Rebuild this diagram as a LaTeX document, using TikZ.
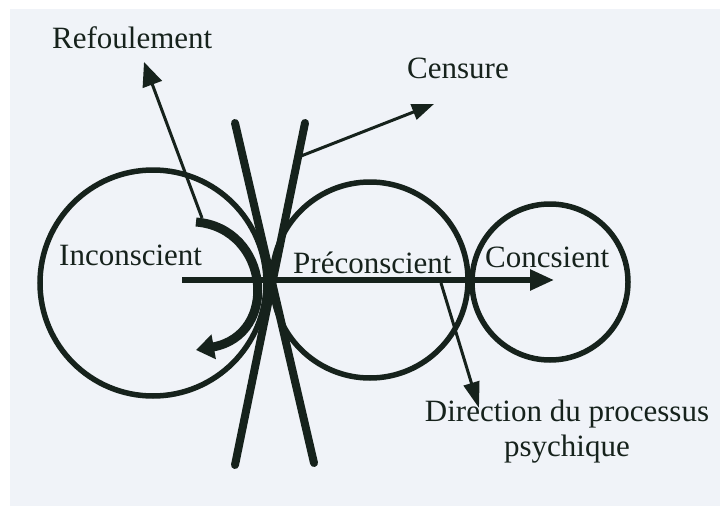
\documentclass[tikz,border=0pt]{standalone}
\usepackage{fontspec}
\setmainfont{Liberation Serif}
\usetikzlibrary{arrows.meta,calc}
\definecolor{ink}{RGB}{22,34,28}
\definecolor{paper}{RGB}{240,243,248}
\begin{document}
\begin{tikzpicture}[x=1pt,y=-1pt,
  ring/.style={circle,draw=ink,line width=5.5pt,inner sep=0pt},
  barline/.style={draw=ink,line width=8pt,line cap=round},
  thinarrow/.style={draw=ink,line width=3pt,-{Triangle[length=22pt,width=16pt]}},
  label/.style={font=\fontsize{31}{35}\selectfont,text=ink,inner sep=0pt}]
\useasboundingbox (0,0) rectangle (720,506);
\fill[white] (0,0) rectangle (720,506);
\fill[paper] (10,9) rectangle (720,506);
% circles
\node[ring,minimum size=226pt] (inc) at (153,283) {};
\node[ring,minimum size=196pt] (pre) at (370,280) {};
\node[ring,minimum size=156pt] (con) at (550,282) {};
% crossing bars
\coordinate (a1) at (235,123);
\coordinate (a2) at (314,463);
\coordinate (b1) at (305,123);
\coordinate (b2) at (235,465);
\draw[barline] (a1) -- (a2);
\draw[barline] (b1) -- (b2);
% labels
\node[label,anchor=base west] (tref) at (52,48) {Refoulement};
\node[label,anchor=base west] (tcen) at (407,78) {Censure};
\node[label,anchor=base west] (tinc) at (59,265) {Inconscient};
\node[label,anchor=base west,fill=paper,inner sep=1pt] (tpre) at (292,273) {Préconscient};
\node[label,anchor=base west] (tcon) at (485,267) {Concsient};
\node[label,align=center,anchor=base] (tdir) at (567,456) {Direction du processus\\psychique};
% main horizontal arrow
\coordinate (h1) at (182,280);
\coordinate (h2) at (554,280);
\draw[draw=ink,line width=5.5pt,-{Triangle[length=24pt,width=20pt]}] (h1) -- (h2);
% censure arrow
\coordinate (c1) at ($(b1)!0.1!(b2)$);
\coordinate (c2) at (434,104);
\draw[thinarrow] (c1) -- (c2);
% refoulement arrow
\coordinate (r1) at (202,218);
\coordinate (r2) at (144,62);
\draw[thinarrow,-{Triangle[length=24pt,width=20pt]}] (r1) -- (r2);
% direction arrow
\coordinate (d1) at (441,283);
\coordinate (d2) at (479,408);
\draw[thinarrow,-{Triangle[length=26pt,width=16pt]}] (d1) -- (d2);
% curved arrow
\coordinate (k1) at (196,222);
\coordinate (k2) at (196,350);
\draw[draw=ink,line width=9pt,-{Triangle[length=18pt,width=24pt]}] (k1) .. controls (270,228) and (280,335) .. (k2);
\end{tikzpicture}
\end{document}
